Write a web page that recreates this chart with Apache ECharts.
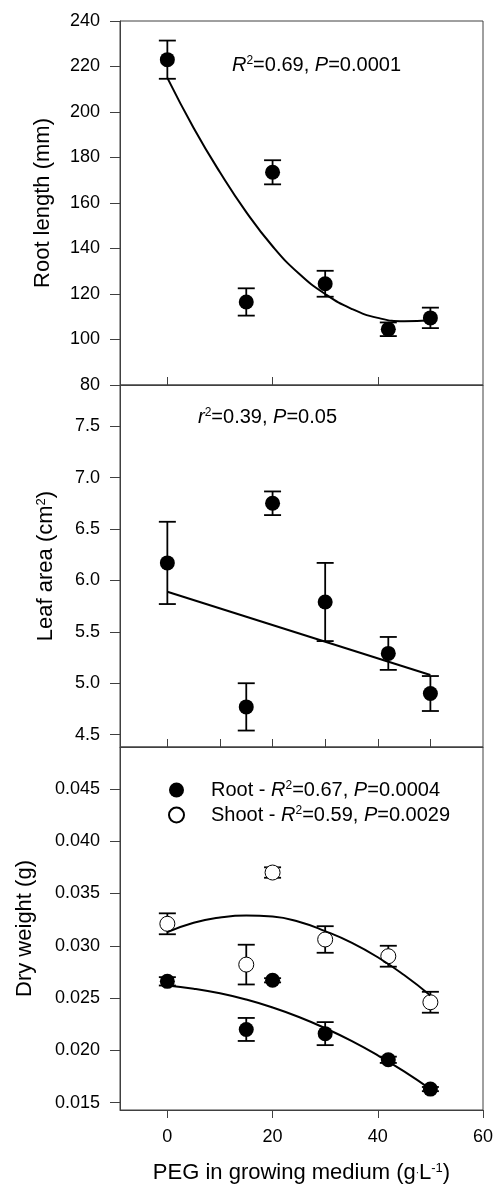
<!DOCTYPE html>
<html>
<head>
<meta charset="utf-8">
<script src="https://cdn.jsdelivr.net/npm/echarts@6/dist/echarts.min.js"></script>
<style>
html,body{margin:0;padding:0;background:#fff;}
#c{width:497px;height:1196px;}
</style>
</head>
<body>
<div id="c"></div>
<script>
// ---- data ----
const peg = [0, 15, 20, 30, 42, 50];
const rootLength = [223, 116.5, 173.5, 124.5, 104.5, 109.5];
const rootLengthErr = [8.4, 6, 5.3, 5.7, 3, 4.5];
const leafArea = [6.17, 4.77, 6.75, 5.79, 5.29, 4.90];
const leafAreaErr = [0.40, 0.23, 0.115, 0.38, 0.16, 0.17];
const rootDW = [0.0266, 0.0220, 0.0267, 0.0216, 0.0191, 0.0163];
const rootDWErr = [0.0004, 0.0011, 0.0002, 0.0011, 0.0003, 0.0002];
const shootDW = [0.0321, 0.0282, 0.0370, 0.0306, 0.0290, 0.0246];
const shootDWErr = [0.0010, 0.0019, 0.0005, 0.00127, 0.0010, 0.0010];

const fitX = [0, 5, 10, 15, 20, 25, 30, 35, 40, 45, 50];
const rootLengthFit = [215, 193, 173.5, 156, 141, 129, 120, 113.5, 109.5, 108, 108.5];
const leafFitX = [0, 50];
const leafAreaFit = [5.89, 5.08];
const rootDWFit = [0.0262, 0.0259, 0.02546, 0.02486, 0.0241, 0.02319, 0.02212, 0.0209, 0.01952, 0.01799, 0.0163];
const shootDWFit = [0.0313, 0.0322, 0.0327, 0.0329, 0.0328, 0.0323, 0.0314, 0.0303, 0.0289, 0.0272, 0.02525];

const xTicksTop = [0, 20, 40];
const xTicksMid = [0, 10, 20, 30, 40, 50];
const xTicksBottom = [0, 20, 40, 60];
const yTicksLeaf = [4.5, 5.0, 5.5, 6.0, 6.5, 7.0, 7.5];
const yTicksDW = [0.015, 0.020, 0.025, 0.030, 0.035, 0.040, 0.045];

// ---- helpers ----
const FONT = 'Liberation Sans, Arial, sans-serif';
const AX = '#404040';
const zip = (xs, ys) => xs.map((x, i) => [x, ys[i]]);
const zip3 = (xs, ys, es) => xs.map((x, i) => [x, ys[i], es[i]]);

function errSeries(data, gi) {
  return {
    type: 'custom', xAxisIndex: gi, yAxisIndex: gi, z: 2,
    data: data,
    encode: {x: 0, y: [1, 2]},
    renderItem: function (params, api) {
      const x = api.value(0), y = api.value(1), e = api.value(2);
      const t = api.coord([x, y + e]);
      const b = api.coord([x, y - e]);
      const hw = 8.5;
      const st = {stroke: '#000', lineWidth: 1.8};
      return {type: 'group', children: [
        {type: 'line', shape: {x1: t[0], y1: t[1], x2: b[0], y2: b[1]}, style: st},
        {type: 'line', shape: {x1: t[0] - hw, y1: t[1], x2: t[0] + hw, y2: t[1]}, style: st},
        {type: 'line', shape: {x1: b[0] - hw, y1: b[1], x2: b[0] + hw, y2: b[1]}, style: st}
      ]};
    }
  };
}
function scatterSeries(name, data, gi, open) {
  return {
    name: name, type: 'scatter', xAxisIndex: gi, yAxisIndex: gi, z: 3,
    symbol: 'circle', symbolSize: 15, data: data,
    itemStyle: open ? {color: '#fff', borderColor: '#000', borderWidth: 1, opacity: 1}
                    : {color: '#000', borderColor: '#000', borderWidth: 0, opacity: 1}
  };
}
function fitSeries(data, gi, smooth) {
  return {
    type: 'line', xAxisIndex: gi, yAxisIndex: gi, z: 4, data: data,
    showSymbol: false, smooth: smooth, silent: true,
    lineStyle: {color: '#000', width: 2}
  };
}
function xAxisOf(gi, ticks, bottom) {
  return {
    type: 'value', gridIndex: gi, min: -9, max: 60,
    splitLine: {show: false},
    axisLine: {show: true, onZero: false, lineStyle: {color: AX, width: 1}},
    axisTick: {show: true, inside: !bottom, length: 8, customValues: ticks, lineStyle: {color: AX}},
    axisLabel: bottom ? {show: true, customValues: ticks, fontSize: 18, color: '#000', fontFamily: FONT, margin: 18}
                      : {show: false},
    name: bottom ? '{t|PEG in growing medium (g}{d|·}{t|L}{s|-1}{t|)}' : '',
    nameLocation: 'middle', nameGap: 52,
    nameTextStyle: {
      rich: {
        t: {fontSize: 22, fontFamily: FONT, color: '#000'},
        d: {fontSize: 10, fontFamily: FONT, color: '#000'},
        s: {fontSize: 13, fontFamily: FONT, color: '#000', verticalAlign: 'top'}
      }
    }
  };
}
function yAxisOf(gi, min, max, opts) {
  const a = {
    type: 'value', gridIndex: gi, min: min, max: max,
    splitLine: {show: false},
    axisLine: {show: true, onZero: false, lineStyle: {color: AX, width: 1}},
    axisTick: {show: true, inside: false, length: 10, lineStyle: {color: AX}},
    axisLabel: {fontSize: 18, color: '#000', fontFamily: FONT, margin: 20},
    name: opts.name, nameLocation: 'middle', nameGap: opts.gap, nameRotate: 90,
    nameTextStyle: {
      fontSize: 22, fontFamily: FONT, color: '#000',
      rich: {
        t: {fontSize: 22, fontFamily: FONT, color: '#000'},
        s: {fontSize: 13, fontFamily: FONT, color: '#000', verticalAlign: 'top'}
      }
    }
  };
  if (opts.interval) a.interval = opts.interval;
  if (opts.ticks) {
    a.axisTick.customValues = opts.ticks;
    a.axisLabel.customValues = opts.ticks;
    a.axisLabel.formatter = function (v) { return v.toFixed(opts.dec); };
  }
  return a;
}
const annRich = {
  n: {fontSize: 20, fontFamily: FONT, fill: '#000', color: '#000'},
  i: {fontSize: 20, fontFamily: FONT, fontStyle: 'italic', fill: '#000', color: '#000'},
  s: {fontSize: 12, fontFamily: FONT, fill: '#000', color: '#000', verticalAlign: 'top'}
};

const chart = echarts.init(document.getElementById('c'), null, {renderer: 'canvas'});
chart.setOption({
  animation: false,
  backgroundColor: '#fff',
  grid: [
    {left: 120, right: 14, top: 21, height: 364, show: true, borderColor: AX, borderWidth: 1},
    {left: 120, right: 14, top: 385, height: 362, show: true, borderColor: AX, borderWidth: 1},
    {left: 120, right: 14, top: 747, height: 363, show: true, borderColor: AX, borderWidth: 1}
  ],
  xAxis: [
    xAxisOf(0, xTicksTop, false),
    xAxisOf(1, xTicksMid, false),
    xAxisOf(2, xTicksBottom, true)
  ],
  yAxis: [
    yAxisOf(0, 80, 240, {name: 'Root length (mm)', gap: 66, interval: 20}),
    yAxisOf(1, 4.38, 7.9, {name: '{t|Leaf area (cm}{s|2}{t|)}', gap: 63, ticks: yTicksLeaf, dec: 1}),
    yAxisOf(2, 0.0143, 0.049, {name: 'Dry weight (g)', gap: 84, ticks: yTicksDW, dec: 3})
  ],
  legend: {
    show: true, orient: 'vertical', left: 163, top: 775,
    data: ['Root', 'Shoot'], icon: 'circle',
    itemWidth: 15, itemHeight: 15, itemGap: 5,
    selectedMode: false,
    textStyle: {fontSize: 20, fontFamily: FONT, color: '#000', padding: [0, 0, 0, 22], rich: {
      n: {fontSize: 20, fontFamily: FONT, color: '#000'},
      i: {fontSize: 20, fontFamily: FONT, color: '#000', fontStyle: 'italic'},
      s: {fontSize: 12, fontFamily: FONT, color: '#000', verticalAlign: 'top'}
    }},
    formatter: function (name) {
      if (name === 'Root') return '{n|Root - }{i|R}{s|2}{n|=0.67, }{i|P}{n|=0.0004}';
      return '{n|Shoot - }{i|R}{s|2}{n|=0.59, }{i|P}{n|=0.0029}';
    }
  },
  graphic: [
    {type: 'text', left: 232, top: 55, style: {text: '{i|R}{s|2}{n|=0.69, }{i|P}{n|=0.0001}', rich: annRich}},
    {type: 'text', left: 198, top: 407, style: {text: '{i|r}{s|2}{n|=0.39, }{i|P}{n|=0.05}', rich: annRich}}
  ],
  series: [
    errSeries(zip3(peg, rootLength, rootLengthErr), 0),
    scatterSeries('RootLength', zip(peg, rootLength), 0, false),
    fitSeries(zip(fitX, rootLengthFit), 0, true),

    errSeries(zip3(peg, leafArea, leafAreaErr), 1),
    scatterSeries('LeafArea', zip(peg, leafArea), 1, false),
    fitSeries(zip(leafFitX, leafAreaFit), 1, false),

    errSeries(zip3(peg, rootDW, rootDWErr), 2),
    errSeries(zip3(peg, shootDW, shootDWErr), 2),
    scatterSeries('Root', zip(peg, rootDW), 2, false),
    scatterSeries('Shoot', zip(peg, shootDW), 2, true),
    fitSeries(zip(fitX, rootDWFit), 2, true),
    fitSeries(zip(fitX, shootDWFit), 2, true)
  ]
});
</script>
</body>
</html>
